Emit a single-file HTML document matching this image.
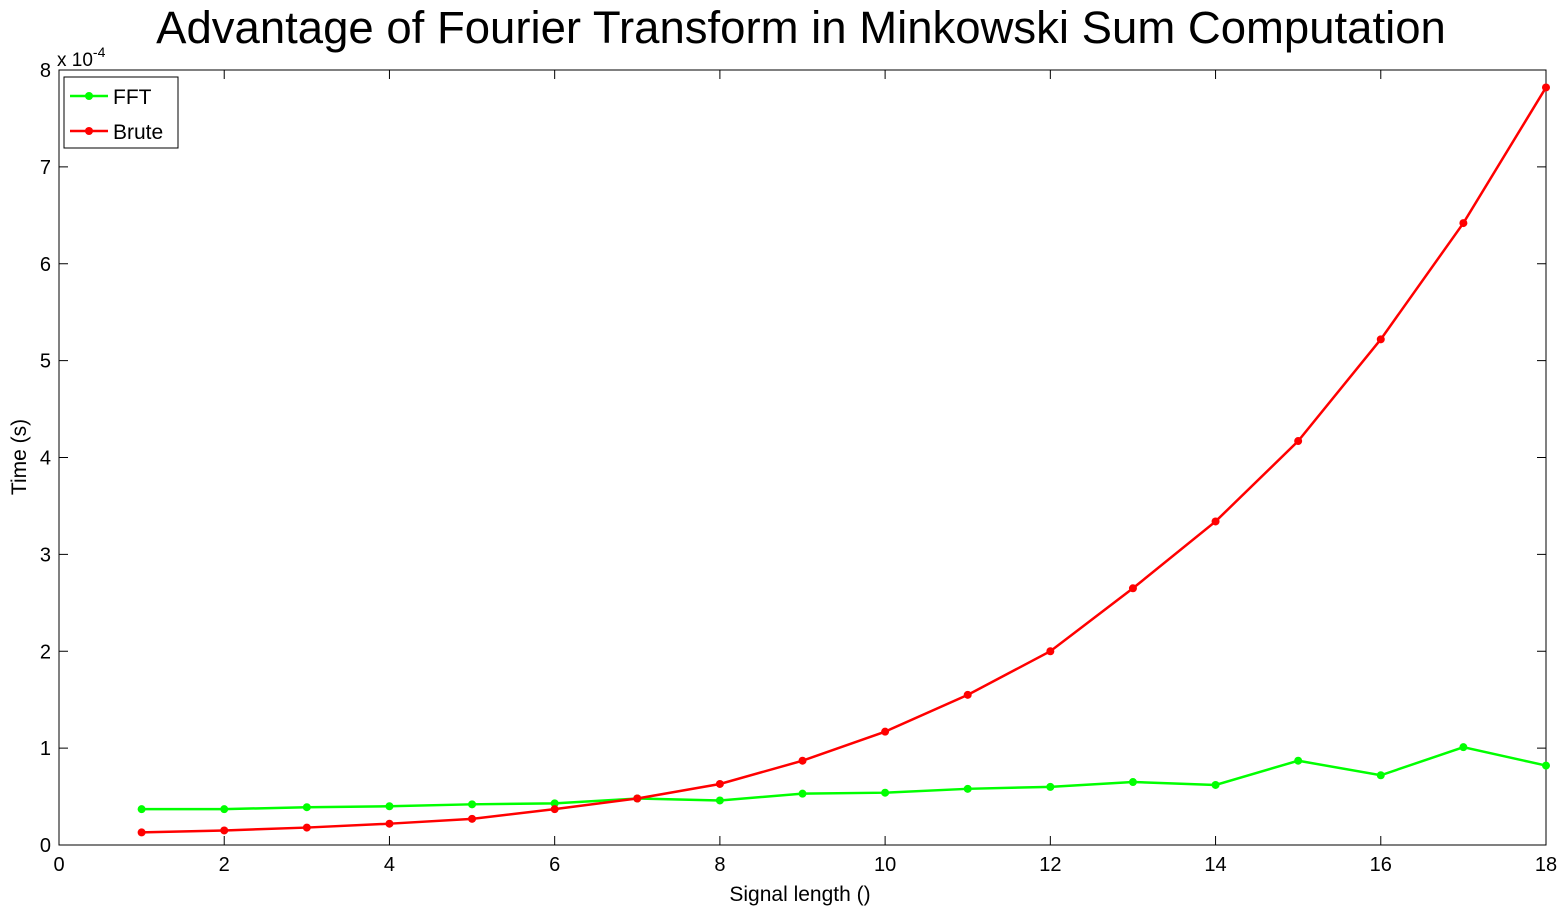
<!DOCTYPE html>
<html><head><meta charset="utf-8"><style>
body{margin:0;background:#fff;}
svg{display:block;font-family:"Liberation Sans",sans-serif;}
</style></head><body>
<svg id="chart" width="1564" height="912" xmlns="http://www.w3.org/2000/svg">
<rect width="1564" height="912" fill="#fff"/>
<text x="801" y="43" font-size="45.5" text-anchor="middle">Advantage of Fourier Transform in Minkowski Sum Computation</text>
<rect x="59" y="70" width="1487" height="775" fill="none" stroke="#000" stroke-width="1"/>
<g id="ticks"></g>
<g id="series"></g>
<text x="800" y="901" font-size="21" text-anchor="middle">Signal length ()</text>
<text transform="translate(26,457) rotate(-90)" font-size="21" text-anchor="middle">Time (s)</text>
<text x="57" y="66" font-size="19">x 10<tspan dy="-9" font-size="14">-4</tspan></text>
<g>
<rect x="64" y="77" width="114" height="71" fill="#fff" stroke="#000"/>
<line x1="70" y1="96" x2="108" y2="96" stroke="#00ff00" stroke-width="2.5"/>
<circle cx="89" cy="96" r="4" fill="#00ff00"/>
<text x="113" y="104" font-size="21">FFT</text>
<line x1="70" y1="131" x2="108" y2="131" stroke="#ff0000" stroke-width="2.5"/>
<circle cx="89" cy="131" r="4" fill="#ff0000"/>
<text x="113" y="139" font-size="21">Brute</text>
</g>
</svg>
<script>
const xValues=[1,2,3,4,5,6,7,8,9,10,11,12,13,14,15,16,17,18];
const fftValues=[0.37,0.37,0.39,0.40,0.42,0.43,0.48,0.46,0.53,0.54,0.58,0.60,0.65,0.62,0.87,0.72,1.01,0.82];
const bruteValues=[0.13,0.15,0.18,0.22,0.27,0.37,0.48,0.63,0.87,1.17,1.55,2.0,2.65,3.34,4.17,5.22,6.42,7.82];
const xTicks=[0,2,4,6,8,10,12,14,16,18];
const yTicks=[0,1,2,3,4,5,6,7,8];
const NS="http://www.w3.org/2000/svg";
const L=59,R=1546,T=70,B=845;
const sx=v=>L+(v-0)/(18-0)*(R-L);
const sy=v=>B-(v-0)/(8-0)*(B-T);
function mk(tag,attrs,parent){const e=document.createElementNS(NS,tag);for(const k in attrs)e.setAttribute(k,attrs[k]);parent.appendChild(e);return e;}
const tg=document.getElementById('ticks');
xTicks.forEach(t=>{const x=sx(t);
 let l=mk('line',{x1:x,x2:x,y1:B,y2:B-9,stroke:'#000'},tg);
 
 
 mk('line',{x1:x,x2:x,y1:T,y2:T+9,stroke:'#000'},tg);
 let tx=mk('text',{x:x,y:B+26,'font-size':20,'text-anchor':'middle'},tg);tx.textContent=t;
 
 });
yTicks.forEach(t=>{const y=sy(t);
 let l=mk('line',{x1:L,x2:L+9,y1:y,y2:y,stroke:'#000'},tg);
 
 
 mk('line',{x1:R,x2:R-9,y1:y,y2:y,stroke:'#000'},tg);
 let tx=mk('text',{x:L-8,y:y+7,'font-size':20,'text-anchor':'end'},tg);tx.textContent=t;
 
 });
const sg=document.getElementById('series');
function series(vals,color,name){
 const p=mk('polyline',{points:vals.map((v,i)=>sx(xValues[i])+','+sy(v)).join(' '),fill:'none',stroke:color,'stroke-width':2.5},sg);
 
 
 vals.forEach((v,i)=>{const c=mk('circle',{cx:sx(xValues[i]),cy:sy(v),r:4,fill:color},sg);
  
  });
}
series(fftValues,'#00ff00','fft');
series(bruteValues,'#ff0000','brute');
</script>
</body></html>
